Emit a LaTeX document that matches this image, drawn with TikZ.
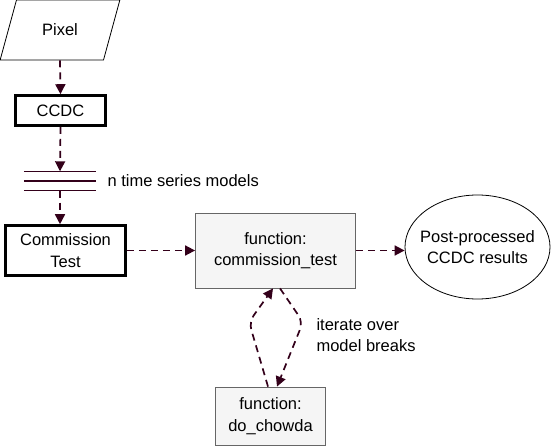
\documentclass[tikz,border=0pt]{standalone}
\usepackage{fontspec}
\setmainfont{Liberation Sans}
\usetikzlibrary{shapes.geometric,arrows.meta}
\definecolor{flowcol}{HTML}{33001A}
\definecolor{funcfill}{HTML}{F5F5F5}
\definecolor{funcline}{HTML}{666666}
\tikzset{
  flow/.style={draw=flowcol,line width=1.7pt,dash pattern=on 7pt off 5pt,-{Triangle[length=10pt,width=10pt]}},
  bold box/.style={draw=black,line width=2.6pt,align=center},
  func box/.style={draw=funcline,fill=funcfill,line width=0.8pt,align=center},
}
\begin{document}
\begin{tikzpicture}[x=1pt,y=-1pt,font=\fontsize{16.5}{21.5}\selectfont]
\useasboundingbox (0,0) rectangle (556,446);
\node[trapezium,trapezium left angle=67,trapezium right angle=113,trapezium stretches=true,draw,line width=0.8pt,minimum width=120pt,minimum height=60pt] (pixel) at (60,30) {Pixel};
\node[bold box,minimum width=90pt,minimum height=30pt] (ccdc) at (60.5,110.5) {CCDC};
\node[minimum width=72pt,minimum height=19pt,inner sep=0pt] (models) at (60,181) {};
\node[anchor=west] (modelstext) at (104,181) {n time series models};
\node[bold box,minimum width=120pt,minimum height=50pt] (comm) at (65.5,250.5) {Commission\\Test};
\node[func box,minimum width=160pt,minimum height=75pt] (func) at (275.5,250.5) {function:\\commission\_test};
\node[ellipse,draw,line width=0.8pt,inner sep=0pt,minimum width=145pt,minimum height=104pt,label={[align=center]center:Post-processed\\CCDC results}] (post) at (477.5,247) {};
\node[func box,minimum width=110pt,minimum height=58pt] (chowda) at (270.5,416) {function:\\do\_chowda};
\node[anchor=west,align=left] (itertext) at (313,335) {iterate over\\model breaks};
%add the three model lines
\foreach \Shift in {-9.5,0,9.5}{
    \draw[flowcol,line width=1.5pt] ([yshift=\Shift pt]models.west) -- ([yshift=\Shift pt]models.east);
};
%add connectors
\coordinate (loopleft) at (249,322);
\coordinate (loopright) at (303,322);
\draw[flow] (pixel.south) -- (ccdc.north);
\draw[flow] (ccdc.south) -- (models.north);
\draw[flow] (models.south) -- (models.south |- comm.north);
\draw[flow] (comm.east) -- (func.west);
\draw[flow] (func.east) -- (post.west |- func.east);
\draw[flow,rounded corners=8pt] ([xshift=-2.5pt]chowda.north) -- (loopleft) -- ([xshift=-2.5pt]func.south);
\draw[flow,rounded corners=8pt] ([xshift=4.5pt]func.south) -- (loopright) -- ([xshift=6.5pt]chowda.north);
\end{tikzpicture}
\end{document}
